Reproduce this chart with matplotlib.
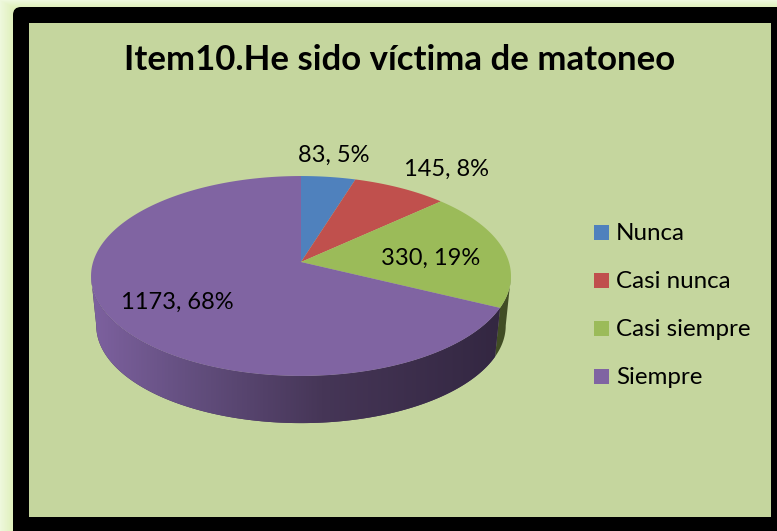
"""3D-look pie chart, drawn in pixel coordinates with a perspective mapping."""
import numpy as np
import matplotlib
matplotlib.use("Agg")
import matplotlib.pyplot as plt
from matplotlib.colors import LinearSegmentedColormap
from matplotlib.patches import FancyBboxPatch, Polygon, Rectangle

TITLE = "Item10.He sido víctima de matoneo"
categories = ["Nunca", "Casi nunca", "Casi siempre", "Siempre"]
values = [83, 145, 330, 1173]
percents = [5, 8, 19, 68]

colors = ["#4f81bd", "#c0504d", "#9bbb59", "#8064a2"]
wall_colors = ["#2f4a6e", "#70302e", "#414d24", "#46365a"]
label_xy = [(334, 155), (447, 169), (431, 258), (177, 302)]

W, H = 777, 531
CX, CY = 301, 262
RX, RY, PERSP = 207.9, 98.0, 0.14
WALL_SCALE, WALL_DROP = 0.975, 50
VISIBLE = (98.0, 262.0)  # part of the rim that shows a side wall

plt.rcParams["font.family"] = ["Lato", "DejaVu Sans"]


def rim(theta, scale=1.0, drop=0.0):
    t = np.radians(theta)
    w = 1 + PERSP * np.cos(t)
    return CX + scale * RX * np.sin(t) / w, CY - scale * RY * np.cos(t) / w + drop


def draw_frame(ax):
    yy, xx = np.mgrid[0:H, 0:W]
    d = np.clip(np.minimum(xx / 13, yy / 7), 0, 1)
    glow = LinearSegmentedColormap.from_list("glow", ["#eef8dc", "#dff0ba"])
    ax.imshow(d, cmap=glow, extent=(0, W, H, 0), aspect="auto", zorder=0)
    ax.add_patch(FancyBboxPatch((13, 7), W + 20, H + 20, boxstyle="round,pad=0,rounding_size=8",
                                fc="black", ec="none", zorder=1))
    ax.add_patch(Rectangle((29, 23), 742, 494, fc="#c5d69e", ec="none", zorder=2))


def draw_wall(ax, a0, a1, color, shaded=False):
    lo, hi = max(a0, VISIBLE[0]), min(a1, VISIBLE[1])
    if lo >= hi:
        return
    th = np.linspace(lo, hi, 160)
    tx, ty = rim(th)
    bx, by = rim(th[::-1], WALL_SCALE, WALL_DROP)
    poly = Polygon(np.c_[np.r_[tx, bx], np.r_[ty, by]], fc=color, ec="none", zorder=3)
    ax.add_patch(poly)
    if shaded:
        cmap = LinearSegmentedColormap.from_list(
            "wall", [(0, "#7d619f"), (0.22, "#655081"), (0.55, "#463657"), (1, "#322640")])
        im = ax.imshow(np.linspace(0, 1, 420)[None, :], cmap=cmap, extent=(91, 511, 440, 250),
                       aspect="auto", zorder=3.5)
        im.set_clip_path(poly)


def draw_pie(ax):
    edges = np.r_[0, np.cumsum(values)] / np.sum(values) * 360
    for i in range(len(values)):
        draw_wall(ax, edges[i], edges[i + 1], wall_colors[i], shaded=i == 3)
    for i in range(len(values)):
        th = np.linspace(edges[i], edges[i + 1], 240)
        x, y = rim(th)
        ax.add_patch(Polygon(np.c_[np.r_[CX, x], np.r_[CY, y]], fc=colors[i], ec="none", zorder=4))
    for (x, y), v, p in zip(label_xy, values, percents):
        ax.text(x, y, f"{v}, {p}%", ha="center", va="center", fontsize=17, color="black", zorder=6)


def draw_legend(ax):
    for i, name in enumerate(categories):
        y = 233 + 48 * i
        ax.add_patch(Rectangle((594, y - 8), 15, 15, fc=colors[i], ec="none", zorder=5))
        ax.text(616, y, name, ha="left", va="center", fontsize=17.4, color="black", zorder=6)


fig = plt.figure(figsize=(W / 100, H / 100), dpi=100)
ax = fig.add_axes([0, 0, 1, 1])
draw_frame(ax)
draw_pie(ax)
draw_legend(ax)
ax.text(400, 60, TITLE, ha="center", va="center", fontsize=25, fontweight="bold", color="black", zorder=6)
ax.set_xlim(0, W)
ax.set_ylim(H, 0)
ax.axis("off")
fig.savefig("out.png", dpi=100)
